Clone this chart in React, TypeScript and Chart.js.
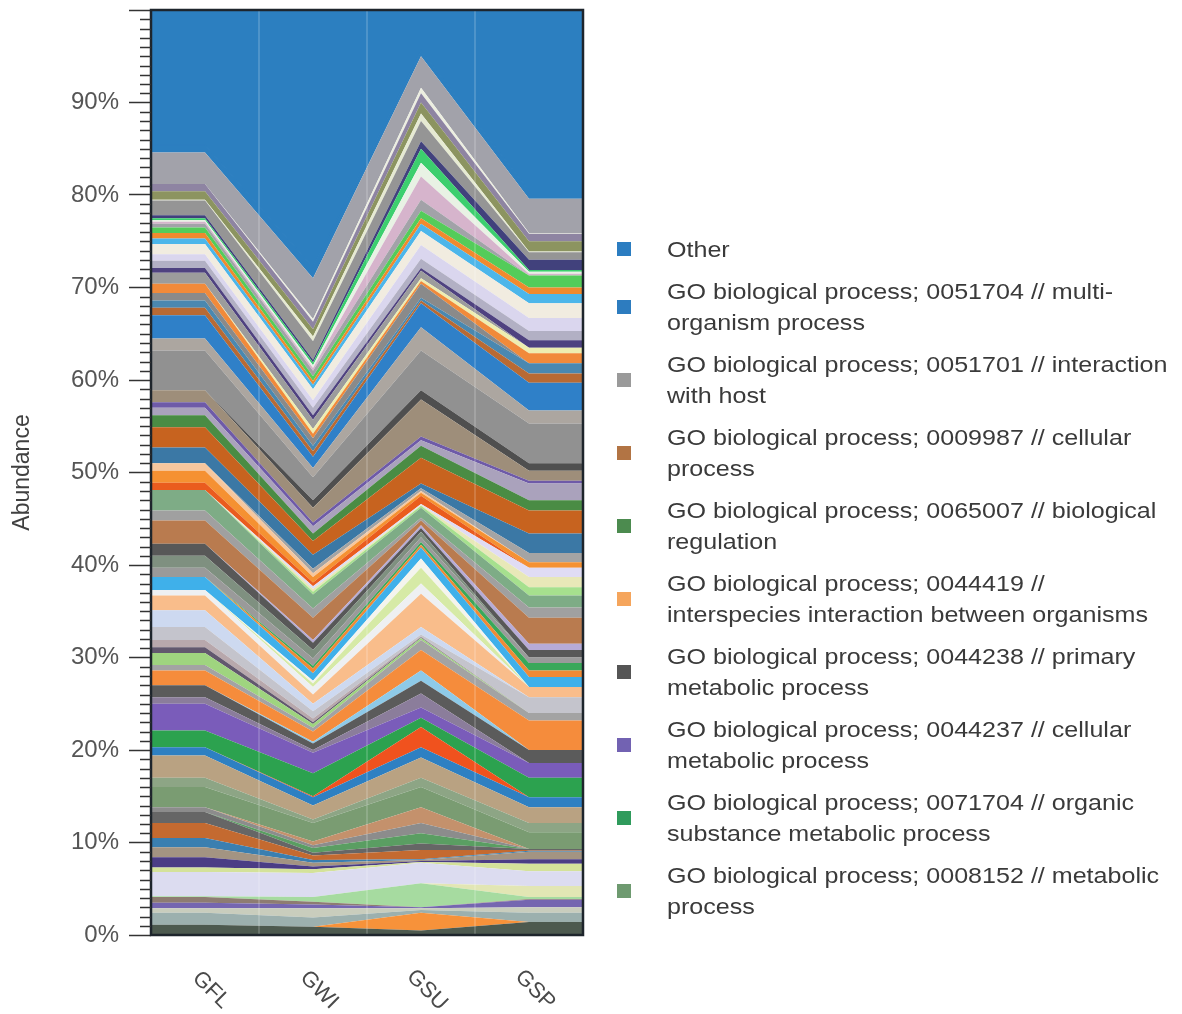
import React, { useEffect, useRef } from "react";
import { Chart, registerables } from "chart.js";

Chart.register(...registerables);

// Samples along the x axis
const samples = ["GFL", "GWI", "GSU", "GSP"];

// Relative abundance (%) of every stacked GO term per sample, listed bottom to top.
// The last two entries are the multi-organism term and "Other".
const gflValues = [
  1.1, 0, 1.3, 0.5, 0.6, 0.6, 0.1, 0, 2.6, 0.5,
  1.1, 1.1, 1.0, 1.6, 1.2, 0, 0.5, 0, 2.2, 1.0,
  2.4, 0.9, 0, 1.8, 2.9, 0.7, 1.3, 0, 1.6, 0.6,
  1.3, 0.6, 0.8, 1.4, 1.8, 1.6, 0.6, 0, 0, 1.4,
  0, 0, 1.0, 1.3, 1.3, 0, 2.5, 1.1, 2.2, 0,
  0, 0, 0.8, 1.3, 0.8, 0, 1.7, 2.2, 1.3, 0.8,
  0.6, 1.3, 0, 4.3, 1.3, 2.5, 0.8, 0.8, 0.8, 1.0,
  0, 1.2, 0.5, 0.8, 0.7, 1.1, 0.6, 0.6, 0.6, 0.4,
  0.2, 0.2, 0.2, 0.3, 1.6, 0.1, 0.9, 0.8, 0, 3.4,
  0.8, 14.6,
];

const gwiValues = [
  0.9, 0, 1.0, 1.0, 0.4, 0.3, 0.5, 0, 2.6, 0.4,
  0.3, 0.4, 0.3, 0.5, 0.3, 0.5, 0.3, 0.4, 2.0, 0.4,
  1.5, 0.9, 0.1, 2.5, 2.2, 0.3, 0.7, 0.2, 1.1, 0.4,
  0.4, 0.2, 0.4, 0.8, 0.8, 1.0, 0.8, 0.4, 0.3, 0.8,
  0.5, 0.3, 0.8, 0.9, 0.8, 0.3, 2.4, 1.0, 1.5, 0.3,
  0.3, 0.3, 0.4, 0.6, 0.4, 0.5, 1.5, 1.5, 0.8, 0.8,
  0.4, 1.6, 0.8, 2.5, 1.0, 1.2, 0.6, 0.6, 0.8, 0.5,
  0.5, 1.0, 0.5, 0.8, 0.8, 1.2, 0.5, 0.4, 0.5, 0.6,
  0.3, 0.3, 0.3, 0.3, 2.0, 0.5, 0.8, 0.8, 0.3, 4.4,
  1.2, 27.8,
];

const gsuValues = [
  0.5, 1.9, 0.3, 0.2, 0.1, 0, 2.6, 0, 2.2, 0.1,
  0.1, 0.1, 0.1, 1.0, 0.7, 1.1, 1.1, 1.7, 2.2, 1.0,
  2.2, 1.1, 2.2, 1.0, 1.1, 1.5, 1.4, 1.1, 2.2, 1.1,
  0.2, 0.1, 0.1, 0.2, 0.8, 3.6, 1.1, 1.7, 1.0, 1.2,
  0.3, 0.3, 0.5, 0.6, 0.4, 0.3, 0.5, 0.3, 1.1, 0.2,
  0.1, 0.1, 0.9, 0.3, 0.2, 0.3, 0.5, 2.8, 1.3, 0.6,
  0.4, 4.0, 1.0, 4.3, 2.5, 2.6, 0.3, 0.3, 1.5, 0.3,
  0.3, 0.8, 0.3, 1.0, 1.5, 1.5, 0.8, 0.6, 0.8, 1.2,
  2.5, 1.5, 1.5, 0.8, 2.2, 0.8, 1.2, 1.0, 0.6, 3.4,
  0.6, 4.4,
];

const gspValues = [
  1.4, 0, 1.0, 0.6, 0.8, 0.1, 0.2, 1.2, 1.6, 0.8,
  0.5, 0.8, 0.1, 0.1, 0.1, 0, 0, 0, 1.8, 1.0,
  1.7, 1.1, 0, 2.1, 1.6, 0, 1.4, 0, 3.2, 0.8,
  0, 0, 0, 1.7, 0, 1.1, 0, 0, 0, 1.1,
  0.7, 0.8, 0.6, 0, 0.8, 0.7, 2.8, 1.1, 1.3, 0.9,
  1.1, 1.0, 0, 0.6, 0, 1.0, 2.1, 2.5, 1.1, 1.8,
  0.3, 1.1, 0.8, 4.3, 1.4, 3.0, 1.0, 1.1, 0, 1.1,
  0.6, 0, 0.8, 1.0, 1.4, 1.6, 1.0, 0.7, 1.3, 0,
  0.2, 0.2, 0.2, 1.1, 0.8, 0.1, 1.1, 0.8, 0.1, 3.7,
  0.9, 19.5,
];

// Fill colour of every stacked term, same order as the value arrays
const layerColors = [
  "#4d5a4f", "#f7923a", "#9cb0ae", "#c9cdbd", "#7566b0", "#8e7c72", "#a6dba0", "#e2e6b4", "#dcdcf0", "#d4e29a",
  "#4b3d85", "#a39482", "#3a7fb0", "#c46a30", "#666666", "#5a9e62", "#8c8c8c", "#c4916c", "#7a9c72", "#8da585",
  "#b9a282", "#2e80c2", "#f0521e", "#2ca24f", "#7a5cba", "#8b7d9b", "#5b5b5b", "#8ecae8", "#f58c3c", "#a3a3a3",
  "#9fd47f", "#62586e", "#b8a8ac", "#c4c4cc", "#cdd9f0", "#f9bd8b", "#eef0f2", "#d6eaa6", "#f4f4ee", "#3fb0ea",
  "#f08a36", "#3aa85a", "#9a9a9a", "#7f9080", "#585858", "#b7abd6", "#b97b4f", "#a0a0a0", "#7eac86", "#a6e08e",
  "#e8e8b8", "#e0dcf4", "#ea5c1e", "#f59132", "#f6c79e", "#a4a4a4", "#3b78a5", "#c7631f", "#4a8c44", "#aaa2bc",
  "#6e5aa8", "#9e8e7a", "#4f4f4f", "#919191", "#aca6a0", "#2f80c8", "#b86a34", "#4a88b0", "#8a8a8a", "#f18a3a",
  "#eeeeb0", "#9c9c9c", "#4f4280", "#b2b0c4", "#dad6ee", "#f1ece0", "#4cb6ea", "#f08a2e", "#54cc5a", "#a2a2a8",
  "#d6b4cc", "#e8f2e4", "#3ccf6e", "#41417c", "#959595", "#e6ead2", "#8c9460", "#8e84a2", "#eceee0", "#a2a2aa",
  "#2c7fc0", "#2c7fc0",
];

// Names of the uppermost layers (top first)
const topLayerNames = [
  "Other",
  "GO biological process; 0051704 // multi-organism process",
  "GO biological process; 0051701 // interaction with host",
];

// Legend entries, each split into its printed lines
const legendLines = [
  ["Other"],
  ["GO biological process; 0051704 // multi-", "organism process"],
  ["GO biological process; 0051701 // interaction", "with host"],
  ["GO biological process; 0009987 // cellular", "process"],
  ["GO biological process; 0065007 // biological", "regulation"],
  ["GO biological process; 0044419 //", "interspecies interaction between organisms"],
  ["GO biological process; 0044238 // primary", "metabolic process"],
  ["GO biological process; 0044237 // cellular", "metabolic process"],
  ["GO biological process; 0071704 // organic", "substance metabolic process"],
  ["GO biological process; 0008152 // metabolic", "process"],
];

const legendColors = [
  "#2b7dc1", "#2d7cbf", "#9a9a9a", "#b27444", "#4c8b4f",
  "#f5a55c", "#555555", "#7262b2", "#2f9b5c", "#6e9a70",
];

const FONT = '"Liberation Sans", Arial, Helvetica, sans-serif';

// Band separators, frame, minor y ticks and slanted sample names
const decorations = {
  id: "decorations",
  afterDatasetsDraw(chart: any) {
    const { ctx, chartArea: a, scales } = chart;
    const x = scales.x;
    const y = scales.y;
    ctx.save();

    ctx.strokeStyle = "rgba(255,255,255,0.22)";
    ctx.lineWidth = 1.5;
    for (let i = 0; i < samples.length - 1; i++) {
      const px = x.getPixelForValue(i + 0.5);
      ctx.beginPath();
      ctx.moveTo(px, a.top);
      ctx.lineTo(px, a.bottom);
      ctx.stroke();
    }

    ctx.strokeStyle = "#1e252c";
    ctx.lineWidth = 2.5;
    ctx.strokeRect(a.left, a.top, a.right - a.left, a.bottom - a.top);

    ctx.strokeStyle = "#333";
    ctx.lineWidth = 1.5;
    for (let v = 1; v < 100; v++) {
      if (v % 10 === 0) continue;
      const py = Math.round(y.getPixelForValue(v)) + 0.5;
      ctx.beginPath();
      ctx.moveTo(a.left - 11, py);
      ctx.lineTo(a.left, py);
      ctx.stroke();
    }

    ctx.fillStyle = "#4a4a4a";
    ctx.font = `22px ${FONT}`;
    ctx.textAlign = "center";
    ctx.textBaseline = "middle";
    samples.forEach((name, i) => {
      const px = x.getPixelForValue(i);
      ctx.save();
      ctx.translate(px + 6, a.bottom + 55);
      ctx.rotate(Math.PI / 4);
      ctx.fillText(name, 0, 0);
      ctx.restore();
    });

    ctx.restore();
  },
};

export default function App() {
  const canvasRef = useRef<HTMLCanvasElement | null>(null);

  useEffect(() => {
    const canvas = canvasRef.current;
    if (!canvas) return;
    const n = layerColors.length;

    const datasets = layerColors.map((color, i) => {
      const vals = [gflValues[i], gwiValues[i], gsuValues[i], gspValues[i]];
      const points = [
        { x: -0.5, y: vals[0] },
        ...vals.map((v, k) => ({ x: k, y: v })),
        { x: vals.length - 0.5, y: vals[vals.length - 1] },
      ];
      const fromTop = n - 1 - i;
      // the multi-organism layer shares the colour of "Other"; its outline hides the seam between them
      const outlined = fromTop === 1;
      return {
        label: fromTop < topLayerNames.length ? topLayerNames[fromTop] : `term ${i + 1}`,
        data: points,
        backgroundColor: color,
        borderColor: outlined ? color : "transparent",
        borderWidth: outlined ? 1.5 : 0,
        pointRadius: 0,
        pointHoverRadius: 0,
        tension: 0,
        fill: i === 0 ? "origin" : "-1",
      };
    });

    const chart = new Chart(canvas, {
      type: "line",
      data: { datasets } as any,
      options: {
        animation: false,
        responsive: false,
        maintainAspectRatio: false,
        layout: { padding: { top: 10, right: 599, left: 0, bottom: 0 } },
        plugins: {
          legend: { display: false },
          tooltip: { enabled: false },
        },
        scales: {
          x: {
            type: "linear",
            min: -0.5,
            max: samples.length - 0.5,
            ticks: { display: false },
            grid: { display: false },
            border: { display: false },
            afterFit: (s: any) => {
              s.height = 79;
            },
          },
          y: {
            stacked: true,
            min: 0,
            max: 100,
            ticks: {
              stepSize: 10,
              autoSkip: false,
              padding: 10,
              color: "#555555",
              font: { family: FONT, size: 24 },
              callback: (v: any) => (Number(v) % 10 === 0 && Number(v) < 100 ? `${v}%` : ""),
            },
            grid: {
              drawOnChartArea: false,
              tickLength: 22,
              tickColor: "#333",
              tickWidth: 1.5,
            },
            border: { display: false },
            title: {
              display: true,
              text: "Abundance",
              color: "#404040",
              font: { family: FONT, size: 23 },
              padding: { top: 9, bottom: 0 },
            },
            afterFit: (s: any) => {
              s.width = 151;
              s.paddingTop = 0;
              s.paddingBottom = 0;
            },
          },
        },
      } as any,
      plugins: [decorations],
    });

    return () => chart.destroy();
  }, []);

  return (
    <div style={{ position: "fixed", left: 0, top: 0, width: 1182, height: 1014, background: "#fff" }}>
      <canvas
        ref={canvasRef}
        width={1182}
        height={1014}
        style={{ position: "absolute", left: 0, top: 0, width: 1182, height: 1014 }}
      />
      <div style={{ position: "absolute", left: 617, top: 233.5 }}>
        {legendLines.map((lines, i) => (
          <div key={i} style={{ display: "flex", alignItems: "center", marginBottom: 11 }}>
            <div style={{ width: 14, height: 14, background: legendColors[i], flex: "0 0 auto" }} />
            <div
              style={{
                marginLeft: 36,
                fontFamily: FONT,
                fontSize: 22,
                lineHeight: "31px",
                color: "#3a3a3a",
                transform: "scaleX(1.14)",
                transformOrigin: "left center",
                whiteSpace: "nowrap",
              }}
            >
              {lines.map((l, k) => (
                <div key={k}>{l}</div>
              ))}
            </div>
          </div>
        ))}
      </div>
    </div>
  );
}
